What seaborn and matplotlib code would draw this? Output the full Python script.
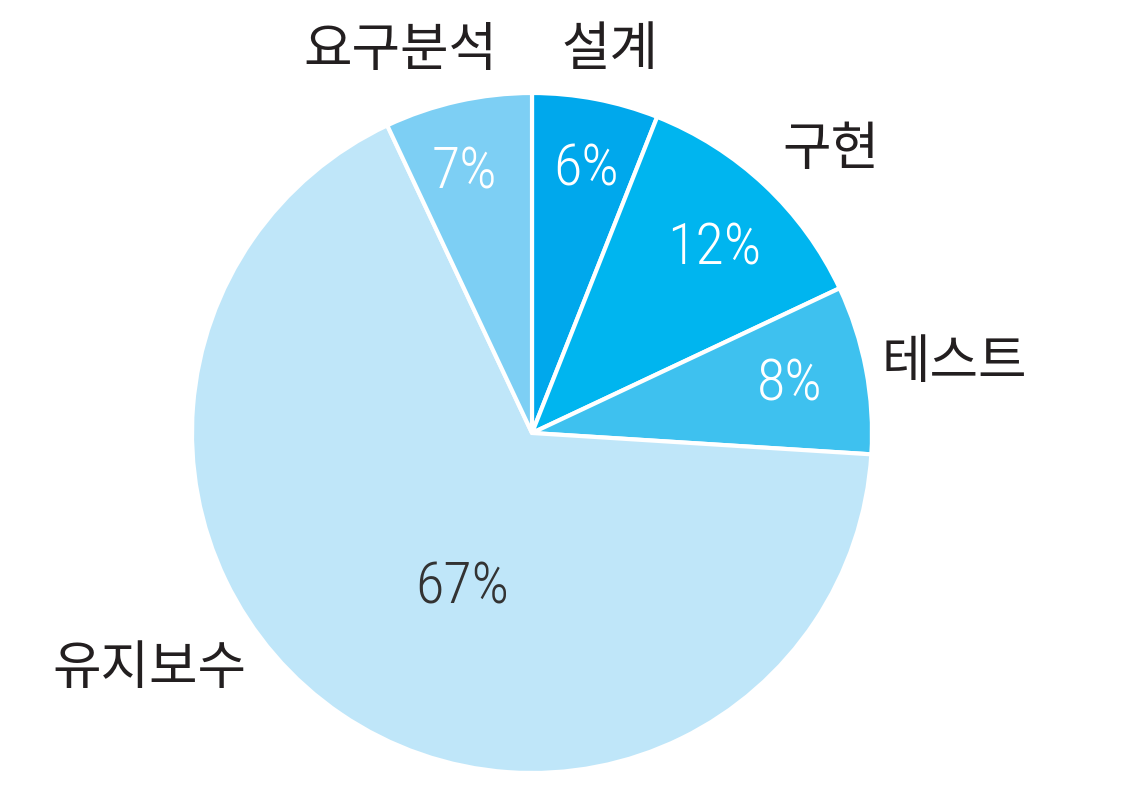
import numpy as np
import matplotlib
matplotlib.use('Agg')
import matplotlib.pyplot as plt
import seaborn as sns
from matplotlib import font_manager

# data
stages = ['설계', '구현', '테스트', '유지보수', '요구분석']
shares = [6, 12, 8, 67, 7]
colors = ['#00a8ec', '#00b5ef', '#3ec1ef', '#bfe6f9', '#7dcff4']
pct_colors = ['white', 'white', 'white', '#333333', 'white']

# layout tweaks per slice (radius fraction, angle offset in degrees)
pct_r = [0.79, 0.76, 0.77, 0.50, 0.79]
pct_da = [-0.9, -1.5, -0.2, 10.0, 2.0]
lab_r = [1.15, 1.21, 1.26, 1.32, 1.19]
lab_da = [-0.7, -3.3, -1.3, -24.2, 6.4]

sns.set_theme(style='white')

names = sorted({f.name for f in font_manager.fontManager.ttflist})
narrow = [n for n in ['Liberation Sans Narrow', 'DejaVu Sans Condensed', 'Roboto Condensed']
          if n in names]
pct_family = narrow[:1] + ['DejaVu Sans']

fig = plt.figure(figsize=(11.48, 8.06), dpi=100)
ax = fig.add_axes([0, 0, 1, 1])

cx, cy, R = 532, 373, 340
wedges, _ = ax.pie(shares, colors=colors, startangle=90, counterclock=False,
                   radius=R, center=(cx, cy),
                   wedgeprops=dict(edgecolor='white', linewidth=3))
ax.set_xlim(0, 1148)
ax.set_ylim(0, 806)
ax.set_aspect('equal')
ax.axis('off')

for i, w in enumerate(wedges):
    mid = (w.theta1 + w.theta2) / 2
    a = np.deg2rad(mid + pct_da[i])
    ax.text(cx + pct_r[i] * R * np.cos(a), cy + pct_r[i] * R * np.sin(a),
            f'{shares[i]}%', ha='center', va='center', fontsize=42,
            color=pct_colors[i], fontstretch='condensed', fontweight='light',
            family=pct_family)
    b = np.deg2rad(mid + lab_da[i])
    ax.text(cx + lab_r[i] * R * np.cos(b), cy + lab_r[i] * R * np.sin(b),
            stages[i], ha='center', va='center', fontsize=38,
            color='#231f20', family=['Noto Sans CJK KR', 'DejaVu Sans'])

fig.savefig('out.png', dpi=100, facecolor='white')
